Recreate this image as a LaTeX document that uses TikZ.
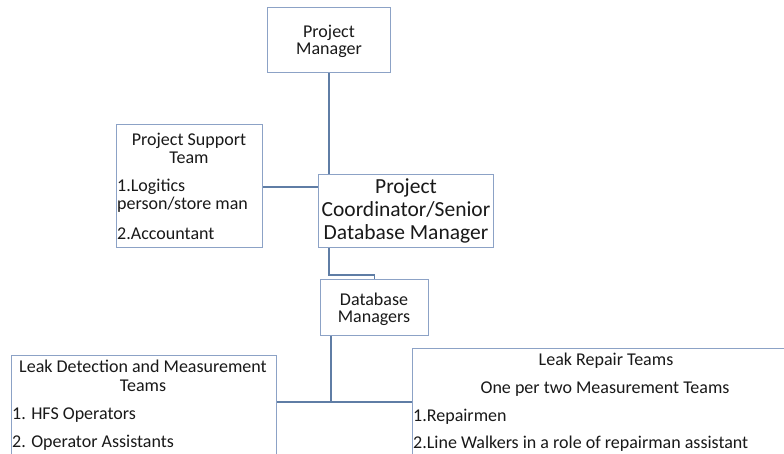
\documentclass[tikz,border=0pt]{standalone}
\usepackage{fontspec}
\setmainfont{Carlito}
\definecolor{boxc}{RGB}{140,162,198}
\definecolor{linec}{RGB}{95,125,165}
\definecolor{txtc}{RGB}{25,25,25}
\begin{document}
\begin{tikzpicture}[x=1pt,y=-1pt,
  box/.style={draw=boxc, line width=1.1pt, inner sep=0pt, anchor=north west, fill=white},
  conn/.style={draw=linec, line width=1.3pt},
  txt/.style={text=txtc, inner sep=0pt, font=\fontsize{18}{17}\selectfont},
  bigtxt/.style={text=txtc, inner sep=0pt, font=\fontsize{21.5}{23}\selectfont}]
\useasboundingbox (0,0) rectangle (784,453);
\clip (0,0) rectangle (784,453);
\fill[white] (0,0) rectangle (784,453);
% boxes
\node[box, minimum width=123pt, minimum height=65pt] (pm) at (267,7) {};
\node[box, minimum width=146pt, minimum height=123pt] (sup) at (116,124) {};
\node[box, minimum width=175pt, minimum height=73pt] (coord) at (318,174) {};
\node[box, minimum width=108pt, minimum height=56pt] (dbm) at (320,279) {};
\node[box, minimum width=265pt, minimum height=130pt] (ld) at (11,355) {};
\node[box, minimum width=400pt, minimum height=130pt] (lr) at (412,348) {};
% connectors
\coordinate (c1) at (329,275);
\coordinate (c2) at (331,402);
\draw[conn] (pm.south) -- (pm.south |- coord.north);
\draw[conn] (sup.east |- 0,187) -- (coord.west |- 0,187);
\draw[conn] (coord.south -| c1) -- (c1) -| (dbm.north);
\draw[conn] (dbm.south -| c2) -- (c2) -- (c2 -| lr.west);
\draw[conn] (ld.east |- c2) -- (c2);
% texts
\node[txt, anchor=base] (pmt1) at (329,37) {Project};
\node[txt, anchor=base] (pmt2) at (329,54) {Manager};
\node[txt, anchor=base] (supt1) at (189,145) {Project Support};
\node[txt, anchor=base] (supt2) at (189,163) {Team};
\node[txt, anchor=base west] (supt3) at (117,191) {1.Logitics};
\node[txt, anchor=base west] (supt4) at (117,209) {person/store man};
\node[txt, anchor=base west] (supt5) at (117,239) {2.Accountant};
\node[bigtxt, anchor=base] (ct1) at (406,193) {Project};
\node[bigtxt, anchor=base] (ct2) at (406,216) {Coordinator/Senior};
\node[bigtxt, anchor=base] (ct3) at (406,239) {Database Manager};
\node[txt, anchor=base] (dt1) at (374,305) {Database};
\node[txt, anchor=base] (dt2) at (374,322) {Managers};
\node[txt, anchor=base] (lt1) at (143,372) {Leak Detection and Measurement};
\node[txt, anchor=base] (lt2) at (143,391) {Teams};
\node[txt, anchor=base west] (lt3) at (12,419) {1. HFS Operators};
\node[txt, anchor=base west] (lt4) at (12,447) {2. Operator Assistants};
\node[txt, anchor=base] (rt1) at (606,365) {Leak Repair Teams};
\node[txt, anchor=base] (rt2) at (605,393) {One per two Measurement Teams};
\node[txt, anchor=base west] (rt3) at (413,421) {1.Repairmen};
\node[txt, anchor=base west] (rt4) at (413,448) {2.Line Walkers in a role of repairman assistant};
\end{tikzpicture}
\end{document}
